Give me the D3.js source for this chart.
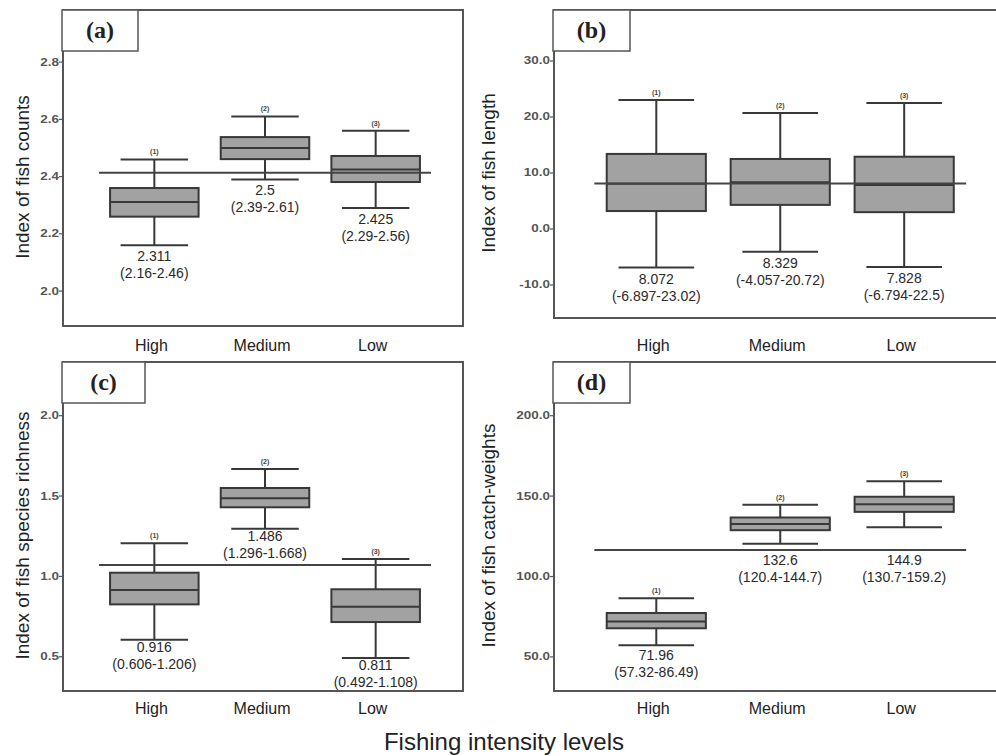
<!DOCTYPE html>
<html lang="en">
<head>
<meta charset="UTF-8">
<title>Fishing intensity box plots</title>
<script src="https://d3js.org/d3.v7.min.js"></script>
<style>
    body { margin: 0; background: #fff; }
    svg { display: block; font-family: 'Liberation Sans', Arial, sans-serif; }
</style>
</head>
<body>
<div id="chart"></div>
<script>
    // categories and labels
    var categories = ["High", "Medium", "Low"];
    var groupTags = ["(1)", "(2)", "(3)"];
    var panelTags = ["(a)", "(b)", "(c)", "(d)"];
    var yTitles = ["Index of fish counts", "Index of fish length",
                   "Index of fish species richness", "Index of fish catch-weights"];
    var xTitle = "Fishing intensity levels";

    // (a) fish counts
    var countsLo  = [2.16, 2.39, 2.29];
    var countsQ1  = [2.26, 2.461, 2.381];
    var countsMed = [2.311, 2.5, 2.425];
    var countsQ3  = [2.36, 2.538, 2.472];
    var countsHi  = [2.46, 2.61, 2.56];
    var countsRef = 2.413;
    var countsTicks = [2.0, 2.2, 2.4, 2.6, 2.8];
    var countsDomain = [1.878, 2.982];

    // (b) fish length
    var lengthLo  = [-6.897, -4.057, -6.794];
    var lengthQ1  = [3.2, 4.3, 3.0];
    var lengthMed = [8.072, 8.329, 7.828];
    var lengthQ3  = [13.4, 12.5, 12.9];
    var lengthHi  = [23.02, 20.72, 22.5];
    var lengthRef = 8.1;
    var lengthTicks = [-10, 0, 10, 20, 30];
    var lengthDomain = [-15.9, 39.1];

    // (c) species richness
    var richLo  = [0.606, 1.296, 0.492];
    var richQ1  = [0.826, 1.43, 0.716];
    var richMed = [0.916, 1.486, 0.811];
    var richQ3  = [1.023, 1.55, 0.92];
    var richHi  = [1.206, 1.668, 1.108];
    var richRef = 1.071;
    var richTicks = [0.5, 1.0, 1.5, 2.0];
    var richDomain = [0.287, 2.334];

    // (d) catch weights
    var weightLo  = [57.32, 120.4, 130.7];
    var weightQ1  = [67.8, 128.8, 140.2];
    var weightMed = [71.96, 132.6, 144.9];
    var weightQ3  = [77.3, 136.7, 149.6];
    var weightHi  = [86.49, 144.7, 159.2];
    var weightRef = 116.5;
    var weightTicks = [50, 100, 150, 200];
    var weightDomain = [28.8, 233.4];

    var W = 996, H = 756;
    var svg = d3.select("#chart").append("svg").attr("width", W).attr("height", H);

    var panels = [
        {lo: countsLo, q1: countsQ1, med: countsMed, q3: countsQ3, hi: countsHi, ref: countsRef,
         ticks: countsTicks, domain: countsDomain, x: 63, y: 10, w: 400, h: 316, labY: 351, gap: 16, tagW: 76, titleX: 22},
        {lo: lengthLo, q1: lengthQ1, med: lengthMed, q3: lengthQ3, hi: lengthHi, ref: lengthRef,
         ticks: lengthTicks, domain: lengthDomain, x: 554, y: 10, w: 448, h: 308, labY: 351, gap: 16, tagW: 77, titleX: 488},
        {lo: richLo, q1: richQ1, med: richMed, q3: richQ3, hi: richHi, ref: richRef,
         ticks: richTicks, domain: richDomain, x: 63, y: 362, w: 400, h: 329, labY: 714, gap: 12, tagW: 83, titleX: 22},
        {lo: weightLo, q1: weightQ1, med: weightMed, q3: weightQ3, hi: weightHi, ref: weightRef,
         ticks: weightTicks, domain: weightDomain, x: 554, y: 362, w: 448, h: 329, labY: 714, gap: 15, tagW: 77, titleX: 488,
         clearRef: true}
    ];

    var ink = "#383838";
    var fmt = function (d) { return d3.format(".1f")(d).replace("\u2212", "-"); };

    panels.forEach(function (p, pi) {
        var g = svg.append("g");
        var y = d3.scaleLinear().domain(p.domain).range([p.y + p.h, p.y]);
        var x = d3.scaleBand().domain(categories).range([p.x + 0.09 * p.w, p.x + 0.92 * p.w]);
        var bw = x.bandwidth() * 0.8, cw = x.bandwidth() * 0.61;
        var cx = function (i) { return x(categories[i]) + x.bandwidth() / 2; };
        var idx = d3.range(categories.length);

        // y ticks
        g.selectAll("line.tick").data(p.ticks).enter().append("line")
            .attr("x1", p.x - 4).attr("x2", p.x)
            .attr("y1", d => y(d)).attr("y2", d => y(d))
            .attr("stroke", "#555").attr("stroke-width", 1.2);
        g.selectAll("text.tick").data(p.ticks).enter().append("text")
            .attr("transform", d => "translate(" + (p.x - 4) + "," + (y(d) + 3.5) + ") scale(1.35,1)")
            .attr("text-anchor", "end")
            .attr("font-size", 10).attr("font-weight", "bold").attr("fill", "#555")
            .text(fmt);

        // whiskers
        g.selectAll("line.wh").data(idx).enter().append("line")
            .attr("x1", cx).attr("x2", cx)
            .attr("y1", i => y(p.lo[i])).attr("y2", i => y(p.hi[i]))
            .attr("stroke", ink).attr("stroke-width", 2);
        ["lo", "hi"].forEach(function (k) {
            g.selectAll("line.cap" + k).data(idx).enter().append("line")
                .attr("x1", i => cx(i) - cw / 2).attr("x2", i => cx(i) + cw / 2)
                .attr("y1", i => y(p[k][i])).attr("y2", i => y(p[k][i]))
                .attr("stroke", ink).attr("stroke-width", 2);
        });

        // boxes
        g.selectAll("rect.box").data(idx).enter().append("rect")
            .attr("x", i => cx(i) - bw / 2).attr("width", bw)
            .attr("y", i => y(p.q3[i])).attr("height", i => y(p.q1[i]) - y(p.q3[i]))
            .attr("fill", "#a2a2a2").attr("stroke", ink).attr("stroke-width", 2);
        g.selectAll("line.med").data(idx).enter().append("line")
            .attr("x1", i => cx(i) - bw / 2).attr("x2", i => cx(i) + bw / 2)
            .attr("y1", i => y(p.med[i])).attr("y2", i => y(p.med[i]))
            .attr("stroke", ink).attr("stroke-width", 2);

        // reference line
        g.append("line")
            .attr("x1", x.range()[0]).attr("x2", x.range()[1])
            .attr("y1", y(p.ref)).attr("y2", y(p.ref))
            .attr("stroke", "#444").attr("stroke-width", 2);

        // group tags above whiskers
        g.selectAll("text.gt").data(idx).enter().append("text")
            .attr("x", cx).attr("y", i => y(p.hi[i]) - 5)
            .attr("text-anchor", "middle").attr("font-size", 7).attr("font-weight", "bold")
            .attr("fill", "#444").text(i => groupTags[i]);

        // value labels
        var labTop = function (i) {
            var yy = y(p.lo[i]);
            if (p.clearRef && yy < y(p.ref)) yy = y(p.ref);
            return yy + p.gap;
        };
        g.selectAll("text.v1").data(idx).enter().append("text")
            .attr("x", cx).attr("y", labTop)
            .attr("text-anchor", "middle").attr("font-size", 14).attr("fill", "#2a2a2a")
            .text(i => String(p.med[i]));
        g.selectAll("text.v2").data(idx).enter().append("text")
            .attr("x", cx).attr("y", i => labTop(i) + 17)
            .attr("text-anchor", "middle").attr("font-size", 14).attr("fill", "#2a2a2a")
            .text(i => "(" + p.lo[i] + "-" + p.hi[i] + ")");

        // frame
        g.append("rect")
            .attr("x", p.x).attr("y", p.y).attr("width", p.w).attr("height", p.h)
            .attr("fill", "none").attr("stroke", "#555").attr("stroke-width", 2);

        // panel tag box
        g.append("rect")
            .attr("x", p.x - 1).attr("y", p.y).attr("width", p.tagW).attr("height", 41)
            .attr("fill", "#fff").attr("stroke", "#555").attr("stroke-width", 1.5);
        g.append("text")
            .attr("x", p.x - 1 + p.tagW / 2).attr("y", p.y + 28)
            .attr("text-anchor", "middle")
            .attr("font-family", "'Liberation Serif', 'Times New Roman', serif")
            .attr("font-size", 24).attr("font-weight", "bold").attr("fill", "#222")
            .text(panelTags[pi]);

        // x category labels
        g.selectAll("text.cat").data(idx).enter().append("text")
            .attr("x", i => cx(i) - 3).attr("y", p.labY)
            .attr("text-anchor", "middle").attr("font-size", 16).attr("fill", "#222")
            .text(i => categories[i]);

        // y title
        g.append("text")
            .attr("transform", "translate(" + (p.titleX + 7) + "," + (p.y + p.h / 2 + 9) + ") rotate(-90)")
            .attr("text-anchor", "middle").attr("font-size", 19).attr("fill", "#222")
            .text(yTitles[pi]);
    });

    svg.append("text")
        .attr("x", 504).attr("y", 750)
        .attr("text-anchor", "middle").attr("font-size", 24).attr("fill", "#222")
        .text(xTitle);
</script>
</body>
</html>
